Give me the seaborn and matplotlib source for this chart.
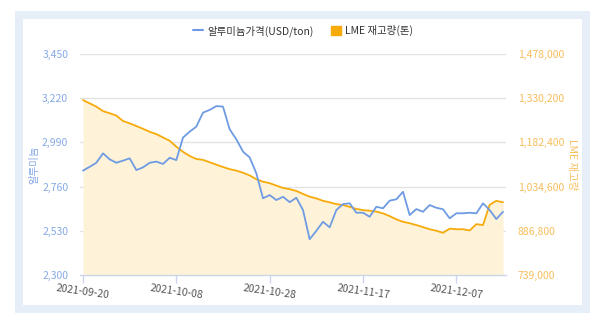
import numpy as np
import pandas as pd
import matplotlib
matplotlib.use("Agg")
import matplotlib.pyplot as plt
from matplotlib.patches import Rectangle, Patch
from matplotlib.lines import Line2D
import seaborn as sns

# Trading days (weekdays) from 2021-09-20 to 2021-12-16
dates = pd.bdate_range("2021-09-20", "2021-12-16")

# Aluminium price, USD/ton
price = [
    2843, 2863, 2884, 2933, 2902, 2884, 2895, 2907, 2846, 2860,
    2884, 2890, 2878, 2910, 2898, 3015, 3046, 3072, 3145, 3159,
    3179, 3176, 3058, 3006, 2942, 2912, 2829, 2699, 2716, 2690,
    2707, 2679, 2702, 2638, 2486, 2530, 2577, 2548, 2638, 2669,
    2673, 2624, 2624, 2603, 2655, 2647, 2687, 2694, 2733, 2612,
    2643, 2629, 2664, 2650, 2642, 2595, 2621, 2621, 2624, 2621,
    2673, 2638, 2591, 2629,
]

# LME aluminium stocks, tonnes
stock = [
    1324000, 1313000, 1302000, 1287000, 1280000, 1272000, 1254000, 1246000, 1237000, 1228000,
    1218000, 1210000, 1199000, 1188000, 1168000, 1151000, 1137000, 1127000, 1124000, 1116000,
    1108000, 1100000, 1093000, 1088000, 1081000, 1072000, 1059000, 1051000, 1046000, 1038000,
    1030000, 1026000, 1020000, 1010000, 1001000, 995000, 987000, 982000, 976000, 973000,
    967000, 960000, 956000, 954000, 951000, 945000, 936000, 925000, 917000, 912000,
    906000, 899000, 892000, 887000, 880000, 894000, 892000, 892000, 888000, 909000,
    906000, 974000, 987000, 982000,
]

tick_labels = ["2021-09-20", "2021-10-08", "2021-10-28", "2021-11-17", "2021-12-07"]
price_ticks = [2300, 2530, 2760, 2990, 3220, 3450]
stock_ticks = [739000, 886800, 1034600, 1182400, 1330200, 1478000]

df = pd.DataFrame({"idx": np.arange(len(dates)), "date": dates.strftime("%Y-%m-%d"),
                   "price": price, "stock": stock})

BLUE = "#6e9be3"
ORANGE = "#f7ab0a"
FILL = "#fef3d8"
BLUE_TXT = "#86a9e6"
ORANGE_TXT = "#f7be5c"

sns.set_theme(style="white")
plt.rcParams["font.family"] = ["Noto Sans CJK KR", "DejaVu Sans"]

fig = plt.figure(figsize=(6.0, 3.22), dpi=100)

# Card frame behind everything
fig.patches.append(Rectangle((15 / 600, 1 - 313 / 322), 575 / 600, 302 / 322,
                             transform=fig.transFigure, facecolor="#e6eef8",
                             edgecolor="none", zorder=-2))
fig.patches.append(Rectangle((23 / 600, 1 - 305 / 322), 559 / 600, 286 / 322,
                             transform=fig.transFigure, facecolor="white",
                             edgecolor="none", zorder=-1))

ax = fig.add_axes([80 / 600, 1 - 275 / 322, 426 / 600, 221 / 322])
ax.patch.set_alpha(0)
ax2 = ax.twinx()
ax2.patch.set_alpha(0)

# Stock area + line on the right axis
ax2.fill_between(df["idx"], df["stock"], stock_ticks[0], color=FILL, linewidth=0, zorder=1)
sns.lineplot(data=df, x="idx", y="stock", ax=ax2, color=ORANGE, linewidth=1.3, zorder=2)
ax2.set_ylim(stock_ticks[0], stock_ticks[-1])
ax2.set_yticks(stock_ticks)
ax2.set_yticklabels([f"{v:,}" for v in stock_ticks], color=ORANGE_TXT, fontsize=7.5)
ax2.set_ylabel("LME 재고량", color=ORANGE_TXT, fontsize=7.5, rotation=270, va="center")
ax2.yaxis.set_label_coords(1.155, 0.5)

# Price line on the left axis, drawn above the area
ax.set_zorder(ax2.get_zorder() + 1)
sns.lineplot(data=df, x="idx", y="price", ax=ax, color=BLUE, linewidth=1.3, zorder=3)
ax.set_ylim(price_ticks[0], price_ticks[-1])
ax.set_yticks(price_ticks)
ax.set_yticklabels([f"{v:,}" for v in price_ticks], color=BLUE_TXT, fontsize=7.5)
ax.set_ylabel("알루미늄", color=BLUE_TXT, fontsize=7.5, va="center")
ax.yaxis.set_label_coords(-0.108, 0.5)

ax.set_xlim(-0.45, len(dates) - 0.55)
pos = [list(df["date"]).index(t) for t in tick_labels]
ax.set_xticks(pos)
ax.set_xticklabels(tick_labels, rotation=-8, ha="center", fontsize=7.5, color="#555555")
ax.set_xlabel("")

# Grid lines on the back axis so they sit under the area
for v in stock_ticks[1:]:
    ax2.axhline(v, color="#e3e3e3", linewidth=1.0, zorder=0)
ax.grid(False)
ax2.grid(False)

for a in (ax, ax2):
    for s in a.spines.values():
        s.set_visible(False)
ax.spines["bottom"].set_visible(True)
ax.spines["bottom"].set_color("#ccd6eb")
ax.spines["bottom"].set_linewidth(1.0)
ax.tick_params(axis="x", length=6, color="#ccd6eb", width=1, pad=0, direction="out")
ax.tick_params(axis="y", length=0, pad=8.5)
ax2.tick_params(axis="y", length=0, pad=8.5)
ax.xaxis.set_ticks_position("bottom")

handles = [Line2D([0], [0], color=BLUE, linewidth=1.5),
           Patch(facecolor=ORANGE, edgecolor=ORANGE)]
fig.legend(handles, ["알루미늄가격(USD/ton)", "LME 재고량(톤)"], loc="center",
           bbox_to_anchor=(303 / 600, 1 - 31 / 322), ncol=2, frameon=False,
           prop={"size": 7.5, "weight": "medium"},
           handlelength=1.0, handleheight=0.9, columnspacing=1.6, handletextpad=0.4,
           labelcolor="#333333")

fig.savefig("out.png", dpi=100)
